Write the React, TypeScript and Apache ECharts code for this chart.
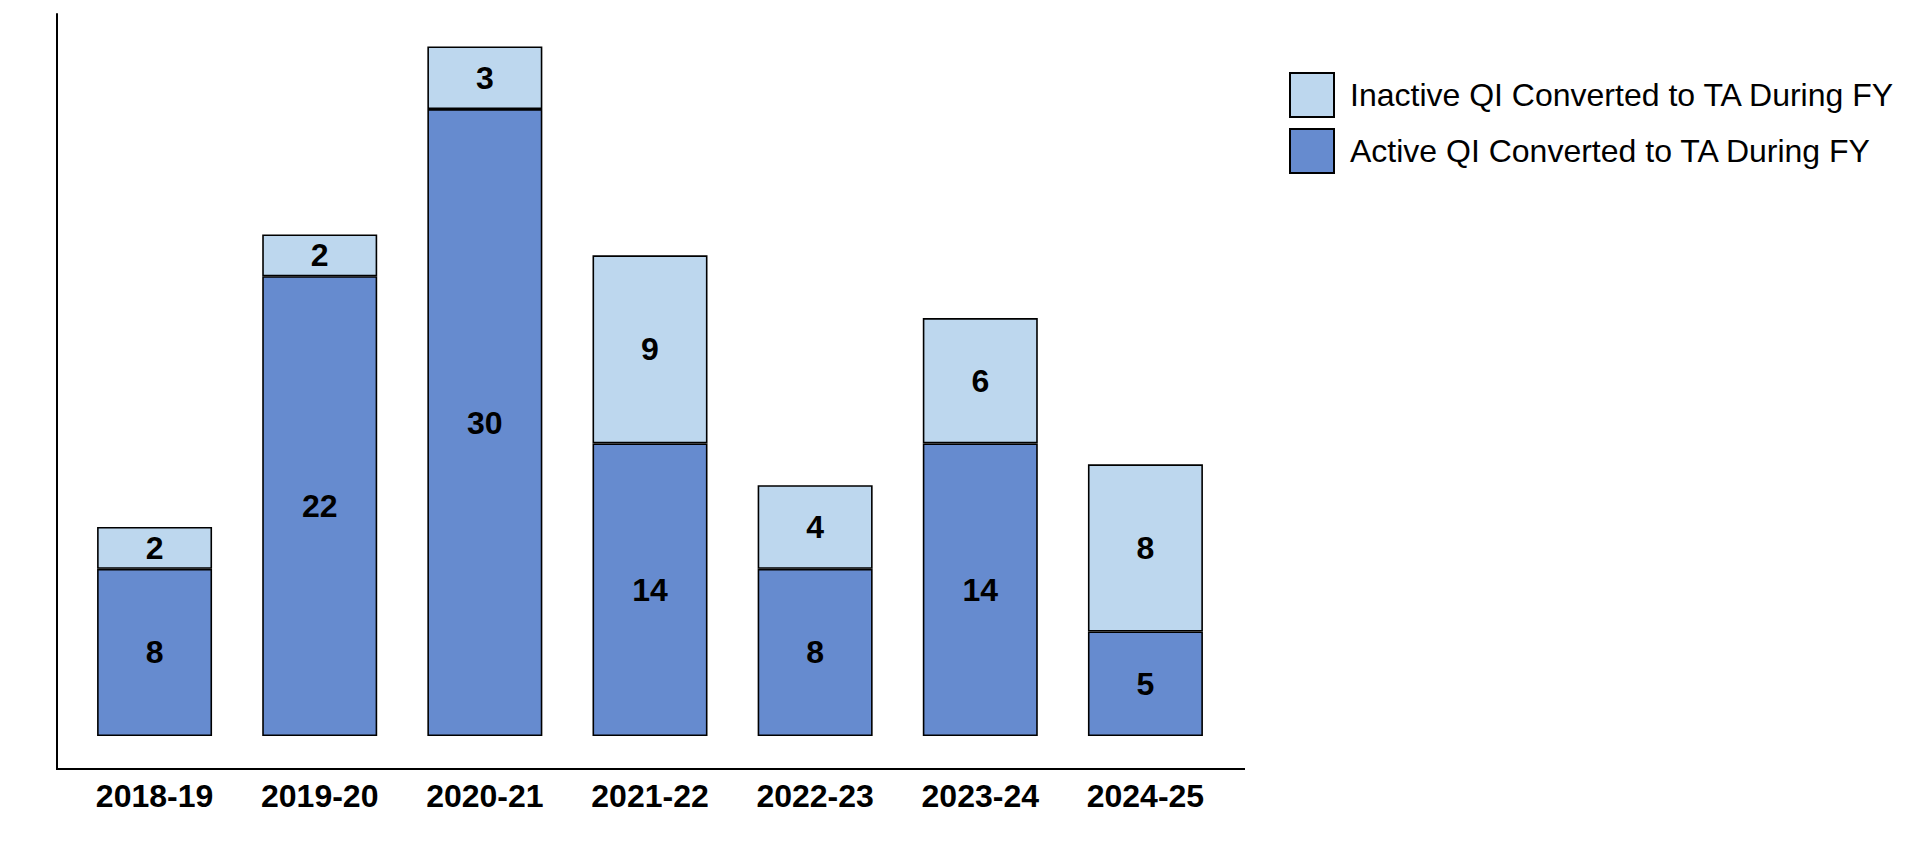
import React, { useEffect, useRef } from "react";
import * as echarts from "echarts";

const categories = ["2018-19", "2019-20", "2020-21", "2021-22", "2022-23", "2023-24", "2024-25"];
const activeValues = [8, 22, 30, 14, 8, 14, 5];
const inactiveValues = [2, 2, 3, 9, 4, 6, 8];
const activeName = "Active QI Converted to TA During FY";
const inactiveName = "Inactive QI Converted to TA During FY";

export default function App() {
  const ref = useRef<HTMLDivElement>(null);
  useEffect(() => {
    if (!ref.current) return;
    const chart = echarts.init(ref.current, null, { renderer: "svg" });
    const font = "'Liberation Sans', Arial, sans-serif";
    const labelStyle = {
      show: true,
      position: "inside",
      color: "#000",
      fontSize: 32,
      fontWeight: "bold",
      fontFamily: font,
    };
    chart.setOption({
      animation: false,
      backgroundColor: "#fff",
      grid: { left: 72, width: 1156, top: 14, height: 755 },
      legend: {
        left: 1289,
        top: 72,
        padding: 0,
        orient: "vertical",
        itemWidth: 44,
        itemHeight: 44,
        itemGap: 10,
        icon: "rect",
        data: [inactiveName, activeName],
        textStyle: { fontSize: 32, fontFamily: font, color: "#000", padding: [0, 0, 0, 11] },
      },
      xAxis: {
        type: "category",
        data: categories,
        axisLine: { show: false },
        axisTick: { show: false },
        axisLabel: { color: "#000", fontSize: 32, fontWeight: "bold", fontFamily: font, margin: 11 },
      },
      yAxis: {
        type: "value",
        min: -1.58,
        max: 34.55,
        offset: 15,
        axisLine: { show: true, onZero: false, lineStyle: { color: "#000", width: 2 } },
        axisTick: { show: false },
        axisLabel: { show: false },
        splitLine: { show: false },
      },
      graphic: [
        {
          type: "line",
          shape: { x1: 56, y1: 769, x2: 1245, y2: 769 },
          style: { stroke: "#000", lineWidth: 2 },
        },
      ],
      series: [
        {
          name: activeName,
          type: "bar",
          stack: "total",
          data: activeValues,
          barWidth: 115,
          itemStyle: { color: "#668BCF", borderColor: "#000", borderWidth: 1.6 },
          label: labelStyle,
        },
        {
          name: inactiveName,
          type: "bar",
          stack: "total",
          data: inactiveValues,
          barWidth: 115,
          itemStyle: { color: "#BDD7EE", borderColor: "#000", borderWidth: 1.6 },
          label: labelStyle,
        },
      ],
    });
    return () => chart.dispose();
  }, []);
  return (
    <div
      ref={ref}
      style={{ position: "fixed", left: 0, top: 0, width: 1920, height: 864, background: "#fff" }}
    />
  );
}
